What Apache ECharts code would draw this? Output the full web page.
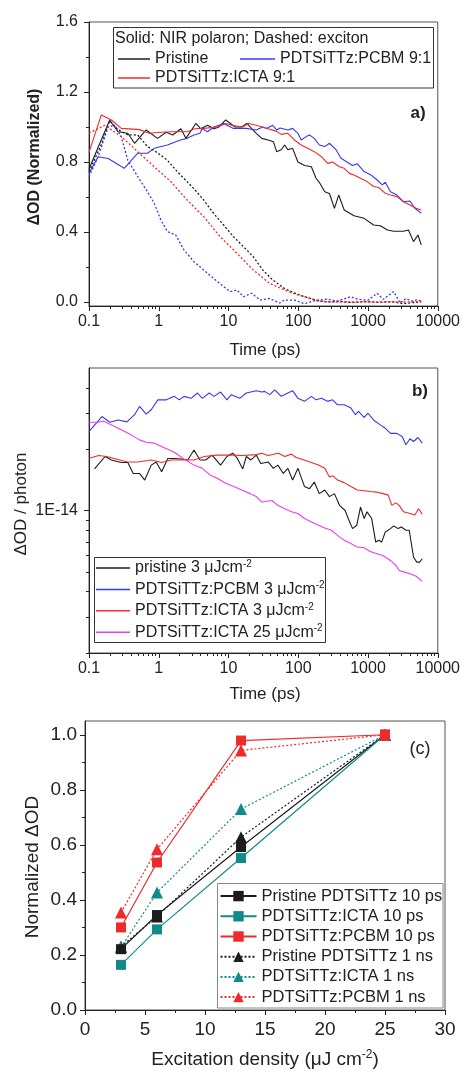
<!DOCTYPE html>
<html><head><meta charset="utf-8">
<script src="https://cdn.jsdelivr.net/npm/echarts@6/dist/echarts.min.js"></script>
<style>html,body{margin:0;padding:0;background:#fff}#c{width:463px;height:1071px}</style>
</head><body><div id="c"></div>
<script>
// ---------- Panel a: normalized ΔOD vs time (ps) ----------
const aPristinePolaron = [[0.1,0.76],[0.198,1.04],[0.26,0.973],[0.36,0.964],[0.45,0.907],[0.66,0.983],[0.96,0.935],[1.28,0.97],[1.58,0.954],[2.08,0.99],[2.45,0.935],[3.4,1.02],[4.0,0.99],[5.0,1.01],[6.2,0.99],[7.3,1.0],[9.1,1.04],[12.5,1.0],[15.5,1.0],[18.3,1.02],[25,0.964],[30,0.935],[37,0.926],[44,0.916],[49,0.859],[57,0.87],[64,0.897],[71,0.87],[83,0.878],[99,0.8],[123,0.78],[154,0.773],[180,0.707],[200,0.684],[240,0.63],[280,0.62],[330,0.535],[380,0.611],[455,0.526],[630,0.493],[880,0.478],[1200,0.44],[1500,0.436],[1900,0.411],[2340,0.404],[3230,0.404],[3800,0.411],[4500,0.345],[5200,0.383],[5800,0.326]];
const aPcbmPolaron = [[0.1,0.735],[0.135,0.83],[0.188,0.82],[0.32,0.764],[0.5,0.85],[0.69,0.85],[0.86,0.878],[1.33,0.897],[2.05,0.926],[2.55,0.935],[3.2,0.954],[3.9,0.964],[4.2,0.99],[5.0,0.973],[6.2,1.0],[8.5,1.02],[11.8,0.992],[18,0.992],[25,0.983],[31,1.0],[35,0.992],[43,1.01],[49,0.983],[55,0.994],[71,0.983],[83,0.992],[99,0.964],[110,0.926],[130,0.945],[145,0.954],[170,0.935],[200,0.897],[240,0.888],[280,0.907],[350,0.869],[410,0.821],[500,0.8],[600,0.78],[700,0.79],[880,0.745],[1100,0.726],[1350,0.697],[1600,0.669],[1770,0.684],[2100,0.63],[2600,0.611],[3230,0.573],[4000,0.577],[4700,0.535],[5800,0.507]];
const aIctaPolaron = [[0.1,0.855],[0.15,1.068],[0.21,1.04],[0.29,0.992],[0.53,0.985],[0.73,0.964],[1.1,0.97],[1.5,0.973],[2.55,0.973],[3.3,0.99],[4.4,0.992],[6.9,1.0],[9.2,1.02],[11,1.01],[16,1.0],[19.3,1.02],[25,1.01],[37,0.99],[49,0.975],[57,0.958],[71,0.964],[88,0.926],[110,0.897],[137,0.878],[170,0.859],[215,0.83],[264,0.792],[310,0.8],[390,0.773],[455,0.764],[540,0.735],[630,0.726],[780,0.707],[970,0.688],[1200,0.66],[1430,0.654],[1770,0.621],[2100,0.611],[2600,0.602],[3230,0.573],[4000,0.554],[4900,0.535],[5800,0.526]];
const aPristineExciton = [[0.1,0.745],[0.15,0.9],[0.198,1.035],[0.26,0.985],[0.36,0.955],[0.5,0.954],[0.69,0.888],[0.98,0.85],[1.33,0.81],[1.84,0.745],[2.55,0.688],[3.5,0.63],[4.4,0.583],[6.1,0.507],[8.5,0.44],[11.8,0.373],[16.4,0.316],[22.6,0.259],[31,0.183],[43,0.126],[63,0.078],[90,0.05],[123,0.03],[190,0.008],[260,0.0],[400,0.004],[600,-0.004],[900,0.003],[1400,-0.002],[2200,0.002],[3200,-0.01],[4300,-0.004],[5800,0.0]];
const aIctaExciton = [[0.1,0.965],[0.168,1.01],[0.29,0.945],[0.5,0.859],[0.86,0.773],[1.49,0.688],[2.55,0.583],[4.4,0.488],[7.6,0.373],[13.2,0.278],[22.6,0.183],[38.7,0.107],[63,0.069],[90,0.045],[123,0.03],[190,0.005],[300,0.0],[500,0.0],[1000,0.0],[2000,0.0],[3500,0.0],[5800,0.003]];
const aPcbmExciton = [[0.1,0.716],[0.135,0.83],[0.188,1.0],[0.23,1.01],[0.29,0.945],[0.36,0.81],[0.5,0.716],[0.69,0.63],[0.86,0.564],[1.07,0.469],[1.33,0.402],[1.75,0.383],[2.3,0.297],[3.2,0.23],[4.4,0.183],[6.1,0.135],[8.5,0.088],[10.6,0.059],[13.2,0.069],[16.4,0.03],[21.5,0.05],[28.2,0.011],[38.7,0.02],[54,-0.006],[63,0.011],[90,0.01],[123,-0.01],[180,0.01],[264,0.016],[366,0.005],[560,0.03],[700,0.016],[1000,0.01],[1350,0.05],[1650,0.015],[2340,0.06],[2900,-0.006],[3500,0.02],[4200,0.005],[5000,0.012],[5800,0.005]];
const aYTicks = [0, 0.4, 0.8, 1.2, 1.6];
const aYMinor = [0.2, 0.6, 1.0, 1.4];

// ---------- Panel b: ΔOD / photon (units of 1E-14) vs time (ps) ----------
const B_UNIT = 1e-14;
const bPristine = [[0.12,1.6],[0.17,1.84],[0.21,1.77],[0.29,1.72],[0.36,1.72],[0.43,1.52],[0.53,1.52],[0.63,1.41],[0.78,1.67],[0.92,1.73],[1.1,1.55],[1.35,1.8],[1.7,1.8],[2.1,1.79],[2.6,1.77],[3.2,1.98],[3.9,1.77],[4.7,1.77],[5.8,1.87],[7.7,1.67],[9.5,1.84],[11.5,1.91],[13.4,1.8],[16,1.6],[18,1.84],[21,1.77],[25,1.87],[29,1.7],[37,1.73],[44,1.61],[51,1.67],[61,1.52],[71,1.61],[83,1.41],[99,1.61],[123,1.31],[145,1.28],[170,1.38],[200,1.21],[240,1.26],[280,1.17],[330,1.21],[390,1.06],[470,1.0],[520,0.913],[600,0.815],[690,0.847],[780,1.04],[880,0.913],[970,0.985],[1130,0.913],[1290,0.7],[1430,0.714],[1570,0.7],[1770,0.785],[2100,0.815],[2340,0.84],[2700,0.815],[3000,0.83],[3500,0.8],[3900,0.8],[4500,0.59],[5000,0.558],[5500,0.558],[6000,0.58]];
const bPcbm = [[0.1,2.44],[0.153,2.89],[0.2,2.71],[0.26,2.78],[0.35,2.72],[0.45,2.95],[0.53,3.24],[0.66,2.97],[0.78,3.12],[0.97,3.49],[1.28,3.49],[1.67,3.63],[1.97,3.49],[2.3,3.63],[2.9,3.55],[3.6,3.77],[4.2,3.55],[5.3,3.77],[6.2,3.63],[7.7,3.81],[9.5,3.49],[11,3.7],[14.5,3.55],[18,3.77],[25,3.87],[30,3.81],[33,3.84],[39,3.7],[46,3.91],[57,3.63],[71,3.77],[83,3.87],[99,3.55],[123,3.43],[154,3.63],[180,3.49],[215,3.55],[264,3.43],[310,3.49],[366,3.3],[455,3.3],[570,3.18],[660,2.95],[730,3.06],[880,2.86],[1000,3.0],[1200,2.78],[1500,2.63],[1770,2.53],[2100,2.39],[2600,2.39],[3100,2.3],[3500,2.1],[4000,2.25],[4500,2.18],[5200,2.28],[6000,2.14]];
const bIcta3 = [[0.1,1.8],[0.137,1.86],[0.18,1.84],[0.26,1.78],[0.36,1.73],[0.5,1.73],[0.78,1.77],[1.1,1.72],[1.5,1.77],[2.3,1.77],[3.2,1.77],[4.5,1.84],[6.9,1.87],[11.9,1.87],[16,1.86],[25,1.88],[30,1.91],[37,1.86],[52,1.91],[64,1.84],[80,1.89],[93,1.82],[110,1.79],[154,1.72],[195,1.67],[240,1.61],[280,1.46],[315,1.48],[366,1.41],[455,1.37],[570,1.31],[700,1.26],[880,1.25],[1070,1.24],[1350,1.23],[1650,1.21],[1950,1.19],[2200,1.06],[2500,1.09],[2800,1.06],[3230,0.985],[4000,0.967],[4700,0.95],[5300,1.02],[6000,0.96]];
const bIcta25 = [[0.1,2.71],[0.137,2.71],[0.16,2.75],[0.21,2.63],[0.29,2.49],[0.4,2.35],[0.53,2.22],[0.66,2.16],[0.87,2.14],[1.2,2.03],[1.67,1.93],[2.3,1.79],[3.2,1.67],[4.2,1.61],[5.5,1.49],[6.9,1.44],[9.1,1.36],[11.9,1.31],[15.5,1.26],[20.5,1.21],[25,1.17],[30,1.1],[42,1.12],[51,1.06],[64,1.02],[80,0.985],[99,0.967],[123,0.913],[154,0.879],[195,0.847],[240,0.82],[300,0.8],[366,0.755],[455,0.714],[570,0.688],[700,0.662],[880,0.656],[1070,0.63],[1350,0.614],[1650,0.6],[2100,0.569],[2500,0.538],[2800,0.508],[3230,0.5],[4000,0.489],[4900,0.476],[6000,0.449]];

// ---------- Panel c: normalized ΔOD vs excitation density ----------
const cDensity = [3, 6, 13, 25];
const cPristine10ps = [0.221, 0.345, 0.592, 1.0];
const cIcta10ps = [0.164, 0.293, 0.552, 1.0];
const cPcbm10ps = [0.30, 0.536, 0.979, 1.0];
const cPristine1ns = [0.23, 0.34, 0.628, 1.0];
const cIcta1ns = [0.228, 0.427, 0.73, 1.0];
const cPcbm1ns = [0.354, 0.584, 0.943, 1.0];
const cYTicks = [0, 0.2, 0.4, 0.6, 0.8, 1.0];
const cYMinor = [0.1, 0.3, 0.5, 0.7, 0.9];
const cXMinor = [2.5, 7.5, 12.5, 17.5, 22.5, 27.5];

const logMinor = [];
[0.1, 1, 10, 100, 1000].forEach(d => { for (let k = 2; k <= 9; k++) logMinor.push(+(d * k).toPrecision(3)); });
const bYMinor = [2e-15,3e-15,4e-15,5e-15,6e-15,7e-15,8e-15,9e-15,2e-14,3e-14,4e-14];

const FONT = '"Liberation Sans", Arial, Helvetica, sans-serif';
const BLACK = '#1c1c1c', BLUE = '#3838f0', RED = '#f02a2a', MAG = '#ee3cee', TEAL = '#138a8a';
const AX = '#222';

const chart = echarts.init(document.getElementById('c'), null, {renderer: 'canvas'});

const GA = {left: 89, top: 22, width: 352, height: 284};
const GB = {left: 89, top: 368, width: 352, height: 285};
const GC = {left: 85, top: 721, width: 360, height: 289};

function frame(g) { return Object.assign({show: true, borderColor: '#555', borderWidth: 1, backgroundColor: 'transparent'}, g); }

const fmtLog = v => String(+(+v).toPrecision(4));

function mainAxis(grid, pos, type, min, max, tick, label, extra) {
  return Object.assign({
    gridIndex: grid, position: pos, type, min, max,
    axisLine: {show: true, onZero: false, lineStyle: {color: AX, width: 1}},
    axisTick: Object.assign({show: true, inside: false, length: 5, lineStyle: {color: AX, width: 1}}, tick || {}),
    axisLabel: Object.assign({color: '#222', fontFamily: FONT}, label || {}),
    splitLine: {show: false}
  }, extra || {});
}
function minorAxis(grid, pos, type, min, max, values) {
  return {
    gridIndex: grid, position: pos, type, min, max, offset: 0,
    axisLine: {show: false, onZero: false},
    axisTick: {show: true, inside: false, length: 3, customValues: values, lineStyle: {color: AX, width: 1}},
    axisLabel: {show: false}, splitLine: {show: false}
  };
}

function ln(name, data, ax, color, dotted) {
  return {type: 'line', name, data, xAxisIndex: ax, yAxisIndex: ax, symbol: 'none',
    lineStyle: {color, width: dotted ? 1.3 : 1.1, type: dotted ? [2, 2] : 'solid'},
    itemStyle: {color}, silent: true, animation: false, z: 2};
}
function lnc(name, ys, color, dotted, sym) {
  return {type: 'line', name, data: cDensity.map((x, i) => [x, ys[i]]), xAxisIndex: 4, yAxisIndex: 4,
    symbol: sym, symbolSize: sym === 'triangle' ? 12 : 10, showSymbol: true,
    lineStyle: {color, width: 1.2, type: dotted ? [2, 2] : 'solid'},
    itemStyle: {color}, silent: true, animation: false, z: 2};
}
const scaleB = arr => arr.map(p => [p[0], p[1] * B_UNIT]);

const supRich = {sup: {fontSize: 10, verticalAlign: 'top', lineHeight: 18, fontFamily: FONT, color: '#222'}};

const option = {
  backgroundColor: '#fff',
  animation: false,
  grid: [frame(GA), frame(GB), frame(GC)],
  xAxis: [
    mainAxis(0, 'bottom', 'log', 0.1, 10000, null, {fontSize: 16, margin: 8, formatter: fmtLog}, {logBase: 10}),
    minorAxis(0, 'bottom', 'log', 0.1, 10000, logMinor),
    mainAxis(1, 'bottom', 'log', 0.1, 10000, null, {fontSize: 16, margin: 8, formatter: fmtLog}, {logBase: 10}),
    minorAxis(1, 'bottom', 'log', 0.1, 10000, logMinor),
    mainAxis(2, 'bottom', 'value', 0, 30, null, {fontSize: 19, margin: 10}, {interval: 5}),
    minorAxis(2, 'bottom', 'value', 0, 30, cXMinor)
  ],
  yAxis: [
    mainAxis(0, 'left', 'value', -0.023, 1.6, {customValues: aYTicks},
      {fontSize: 16, margin: 11, customValues: aYTicks, formatter: v => (+v).toFixed(1)}),
    minorAxis(0, 'left', 'value', -0.023, 1.6, aYMinor),
    mainAxis(1, 'left', 'log', 2e-15, 5e-14, {customValues: [1e-14]},
      {fontSize: 16, margin: 11, customValues: [1e-14], formatter: () => '1E-14'}, {logBase: 10}),
    minorAxis(1, 'left', 'log', 2e-15, 5e-14, bYMinor),
    mainAxis(2, 'left', 'value', 0, 1.05, {customValues: cYTicks},
      {fontSize: 19, margin: 8, customValues: cYTicks, formatter: v => (+v).toFixed(1)}),
    minorAxis(2, 'left', 'value', 0, 1.05, cYMinor)
  ],
  legend: [
    {data: ['Pristine', 'PDTSiTTz:ICTA 9:1'], orient: 'vertical', left: 118, top: 51, padding: 0,
      icon: 'rect', itemWidth: 32, itemHeight: 1.5, itemGap: 3, selectedMode: false,
      textStyle: {fontSize: 16, color: '#222', fontFamily: FONT}},
    {data: ['PDTSiTTz:PCBM 9:1'], orient: 'vertical', left: 240, top: 51, padding: 0,
      icon: 'rect', itemWidth: 35, itemHeight: 1.5, itemGap: 3, selectedMode: false,
      textStyle: {fontSize: 16, color: '#222', fontFamily: FONT}},
    {data: ['pristine 3 μJcm-2', 'PDTSiTTz:PCBM 3 μJcm-2', 'PDTSiTTz:ICTA 3 μJcm-2', 'PDTSiTTz:ICTA 25 μJcm-2'],
      orient: 'vertical', left: 96, top: 559, padding: 0,
      icon: 'rect', itemWidth: 34, itemHeight: 1.5, itemGap: 3.4, selectedMode: false,
      formatter: n => n.replace('-2', '{sup|-2}'),
      textStyle: {fontSize: 16, lineHeight: 18, color: '#222', fontFamily: FONT, rich: supRich}},
    {data: ['Pristine PDTSiTTz 10 ps', 'PDTSiTTz:ICTA 10 ps', 'PDTSiTTz:PCBM 10 ps', 'Pristine PDTSiTTz 1 ns', 'PDTSiTTz:ICTA 1 ns', 'PDTSiTTz:PCBM 1 ns'],
      orient: 'vertical', left: 219.5, top: 886, padding: 0,
      itemWidth: 36, itemHeight: 13, itemGap: 0, selectedMode: false,
      textStyle: {fontSize: 16.5, lineHeight: 20.2, color: '#222', fontFamily: FONT}}
  ],
  graphic: [
    {type: 'rect', z: 3, shape: {x: 113.5, y: 27.5, width: 320, height: 60.5}, style: {fill: '#fff', stroke: '#333', lineWidth: 1}},
    {type: 'text', z: 5, x: 115, y: 39, style: {text: 'Solid: NIR polaron; Dashed: exciton', font: '16px ' + FONT, fill: '#222', textVerticalAlign: 'middle', textAlign: 'left'}},
    {type: 'rect', z: 3, shape: {x: 94.5, y: 557.5, width: 231, height: 85}, style: {fill: '#fff', stroke: '#333', lineWidth: 1}},
    {type: 'rect', z: 3, shape: {x: 217.5, y: 883.5, width: 225.5, height: 124.5}, style: {fill: '#fff', stroke: '#888', lineWidth: 1}},
    {type: 'text', z: 5, x: 418, y: 113, style: {text: 'a)', font: 'bold 17px ' + FONT, fill: '#222', textAlign: 'center', textVerticalAlign: 'middle'}},
    {type: 'text', z: 5, x: 420, y: 391, style: {text: 'b)', font: 'bold 17px ' + FONT, fill: '#222', textAlign: 'center', textVerticalAlign: 'middle'}},
    {type: 'text', z: 5, x: 420, y: 749, style: {text: '(c)', font: '18px ' + FONT, fill: '#222', textAlign: 'center', textVerticalAlign: 'middle'}},
    {type: 'text', z: 5, x: 35, y: 157, rotation: Math.PI / 2, style: {text: 'ΔOD (Normalized)', font: 'bold 16px ' + FONT, fill: '#222', textAlign: 'center', textVerticalAlign: 'middle'}},
    {type: 'text', z: 5, x: 265, y: 350, style: {text: 'Time (ps)', font: '17px ' + FONT, fill: '#222', textAlign: 'center', textVerticalAlign: 'middle'}},
    {type: 'text', z: 5, x: 21, y: 504, rotation: Math.PI / 2, style: {text: 'ΔOD / photon', font: '17px ' + FONT, fill: '#222', textAlign: 'center', textVerticalAlign: 'middle'}},
    {type: 'text', z: 5, x: 265, y: 694, style: {text: 'Time (ps)', font: '17px ' + FONT, fill: '#222', textAlign: 'center', textVerticalAlign: 'middle'}},
    {type: 'text', z: 5, x: 33, y: 867, rotation: Math.PI / 2, style: {text: 'Normalized ΔOD', font: '19px ' + FONT, fill: '#222', textAlign: 'center', textVerticalAlign: 'middle'}},
    {type: 'text', z: 5, x: 265, y: 1060, style: {text: 'Excitation density (μJ cm{sup|-2})', font: '19px ' + FONT, fill: '#222', textAlign: 'center', textVerticalAlign: 'middle',
      rich: {sup: {fontSize: 12, verticalAlign: 'top', lineHeight: 22, fontFamily: FONT, fill: '#222'}}, lineHeight: 22}}
  ],
  series: [
    ln('Pristine', aPristinePolaron, 0, BLACK, false),
    ln('PDTSiTTz:PCBM 9:1', aPcbmPolaron, 0, BLUE, false),
    ln('PDTSiTTz:ICTA 9:1', aIctaPolaron, 0, RED, false),
    ln('Pristine exciton', aPristineExciton, 0, BLACK, true),
    ln('PCBM exciton', aPcbmExciton, 0, BLUE, true),
    ln('ICTA exciton', aIctaExciton, 0, RED, true),
    ln('pristine 3 μJcm-2', scaleB(bPristine), 2, BLACK, false),
    ln('PDTSiTTz:PCBM 3 μJcm-2', scaleB(bPcbm), 2, BLUE, false),
    ln('PDTSiTTz:ICTA 3 μJcm-2', scaleB(bIcta3), 2, RED, false),
    ln('PDTSiTTz:ICTA 25 μJcm-2', scaleB(bIcta25), 2, MAG, false),
    lnc('Pristine PDTSiTTz 1 ns', cPristine1ns, BLACK, true, 'triangle'),
    lnc('PDTSiTTz:ICTA 1 ns', cIcta1ns, TEAL, true, 'triangle'),
    lnc('PDTSiTTz:PCBM 1 ns', cPcbm1ns, RED, true, 'triangle'),
    lnc('Pristine PDTSiTTz 10 ps', cPristine10ps, BLACK, false, 'rect'),
    lnc('PDTSiTTz:ICTA 10 ps', cIcta10ps, TEAL, false, 'rect'),
    lnc('PDTSiTTz:PCBM 10 ps', cPcbm10ps, RED, false, 'rect')
  ]
};
chart.setOption(option);
</script></body></html>
